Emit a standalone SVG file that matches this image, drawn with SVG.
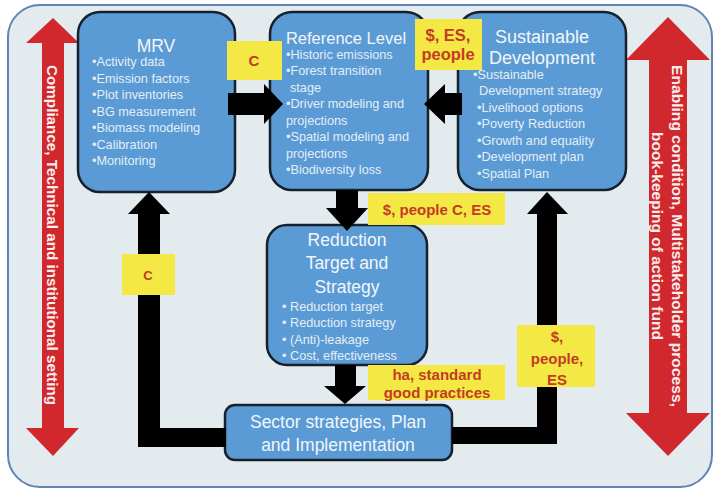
<svg xmlns="http://www.w3.org/2000/svg" width="715" height="491" viewBox="0 0 715 491">
  <style>
    .frame { fill: #e3ebef; stroke: #5f86b3; stroke-width: 2; }
    .box { fill: #5b9bd5; stroke: #17212b; stroke-width: 2.5; }
    .title { font-family: "Liberation Sans", Arial, sans-serif; font-size: 17.5px; fill: #f2f6fa; text-anchor: middle; }
    .item { font-family: "Liberation Sans", Arial, sans-serif; font-size: 12.7px; fill: #e4edf5; }
    .flow { fill: #000; }
    .tag { fill: #f4e844; }
    .tagtxt { font-family: "Liberation Sans", Arial, sans-serif; font-weight: bold; font-size: 15px; fill: #c43b25; text-anchor: middle; }
    .side { fill: #d0282c; }
    .sidetxt { font-family: "Liberation Sans", Arial, sans-serif; font-weight: bold; font-size: 14px; fill: #fbeeee; text-anchor: middle; }
  </style>

  <!-- outer panel -->
  <rect class="frame" x="8" y="5" width="704" height="482" rx="32"/>

  <!-- side double-headed arrows -->
  <g id="side-left">
    <polygon class="side" points="53,18 79,43 64,43 64,428 79,428 53,456 26,428 42,428 42,43 26,43"/>
    <text class="sidetxt" transform="translate(47,235) rotate(90)" textLength="340" lengthAdjust="spacingAndGlyphs">Compliance, Technical and institutional setting</text>
  </g>
  <g id="side-right">
    <polygon class="side" points="668,17 710,60 687,60 687,413 710,413 668,456 626,413 649,413 649,60 626,60"/>
    <text class="sidetxt" transform="translate(672,236) rotate(90)" textLength="342" lengthAdjust="spacingAndGlyphs">Enabling condition, Multistakeholder process,</text>
    <text class="sidetxt" transform="translate(652,236) rotate(90)" textLength="208" lengthAdjust="spacingAndGlyphs">book-keeping of action fund</text>
  </g>

  <!-- nodes -->
  <g id="mrv">
    <rect class="box" x="78" y="12" width="157" height="180" rx="22"/>
    <text class="title" x="156" y="52">MRV</text>
    <text class="item" x="92" y="66">•Activity data</text>
    <text class="item" x="92" y="83">•Emission factors</text>
    <text class="item" x="92" y="99">•Plot inventories</text>
    <text class="item" x="92" y="116">•BG measurement</text>
    <text class="item" x="92" y="132">•Biomass modeling</text>
    <text class="item" x="92" y="149">•Calibration</text>
    <text class="item" x="92" y="165">•Monitoring</text>
  </g>

  <g id="reference-level">
    <rect class="box" x="270" y="12" width="158" height="178" rx="22"/>
    <text class="title" x="346" y="44" style="font-size:16.5px">Reference Level</text>
    <text class="item" x="286" y="59">•Historic emissions</text>
    <text class="item" x="286" y="75">•Forest transition</text>
    <text class="item" x="290" y="92">stage</text>
    <text class="item" x="286" y="108">•Driver modeling and</text>
    <text class="item" x="286" y="125">projections</text>
    <text class="item" x="286" y="141">•Spatial modeling and</text>
    <text class="item" x="286" y="158">projections</text>
    <text class="item" x="286" y="174">•Biodiversity loss</text>
  </g>

  <g id="sustainable-development">
    <rect class="box" x="458" y="12" width="168" height="178" rx="22"/>
    <text class="title" x="542" y="43" style="font-size:18px">Sustainable</text>
    <text class="title" x="542" y="64" style="font-size:18px">Development</text>
    <text class="item" x="473" y="79">•Sustainable</text>
    <text class="item" x="479" y="95">Development strategy</text>
    <text class="item" x="477" y="112">•Livelihood options</text>
    <text class="item" x="477" y="128">•Poverty Reduction</text>
    <text class="item" x="477" y="145">•Growth and equality</text>
    <text class="item" x="477" y="161">•Development plan</text>
    <text class="item" x="477" y="178">•Spatial Plan</text>
  </g>

  <g id="reduction-target">
    <rect class="box" x="267" y="225" width="160" height="140" rx="20"/>
    <text class="title" x="347" y="246">Reduction</text>
    <text class="title" x="347" y="269">Target and</text>
    <text class="title" x="347" y="293">Strategy</text>
    <text class="item" x="282" y="311">• Reduction target</text>
    <text class="item" x="282" y="327">• Reduction strategy</text>
    <text class="item" x="282" y="344">• (Anti)-leakage</text>
    <text class="item" x="282" y="360">• Cost, effectiveness</text>
  </g>

  <g id="sector-strategies">
    <rect class="box" x="225" y="405" width="227" height="55" rx="10"/>
    <text class="title" x="338" y="428">Sector strategies, Plan</text>
    <text class="title" x="338" y="451">and Implementation</text>
  </g>

  <!-- connectors -->
  <g id="connectors">
    <polygon class="flow" points="228,93 264,93 264,84 283,104 264,124 264,115 228,115"/>
    <polygon class="flow" points="462,93 445,93 445,84 424,104 445,124 445,115 462,115"/>
    <polygon class="flow" points="336,190 358,190 358,208 368,208 347,231 326,208 336,208"/>
    <polygon class="flow" points="335,365 356,365 356,386 366,386 345,404 324,386 335,386"/>
    <polygon class="flow" points="226,428 160,428 160,214 170,214 149,192 128,214 138,214 138,447 226,447"/>
    <polygon class="flow" points="452,427 537,427 537,214 527,214 547,192 568,214 557,214 557,444 452,444"/>
  </g>

  <!-- flow labels -->
  <g id="label-c-top">
    <rect class="tag" x="227" y="41" width="55" height="39"/>
    <text class="tagtxt" x="254" y="66">C</text>
  </g>
  <g id="label-es-people">
    <rect class="tag" x="415" y="19" width="67" height="51"/>
    <text class="tagtxt" x="448" y="41" style="font-size:16.5px">$, ES,</text>
    <text class="tagtxt" x="448" y="60" style="font-size:16.5px">people</text>
  </g>
  <g id="label-people-c-es">
    <rect class="tag" x="368" y="193" width="137" height="32"/>
    <text class="tagtxt" x="437" y="215">$, people C, ES</text>
  </g>
  <g id="label-c-left">
    <rect class="tag" x="122" y="254" width="53" height="41"/>
    <text class="tagtxt" x="148" y="280" style="font-size:13px">C</text>
  </g>
  <g id="label-ha">
    <rect class="tag" x="368" y="365" width="137" height="35"/>
    <text class="tagtxt" x="437" y="380">ha, standard</text>
    <text class="tagtxt" x="437" y="398">good practices</text>
  </g>
  <g id="label-people-es">
    <rect class="tag" x="517" y="325" width="78" height="62"/>
    <text class="tagtxt" x="557" y="342">$,</text>
    <text class="tagtxt" x="557" y="364">people,</text>
    <text class="tagtxt" x="557" y="385">ES</text>
  </g>
</svg>
